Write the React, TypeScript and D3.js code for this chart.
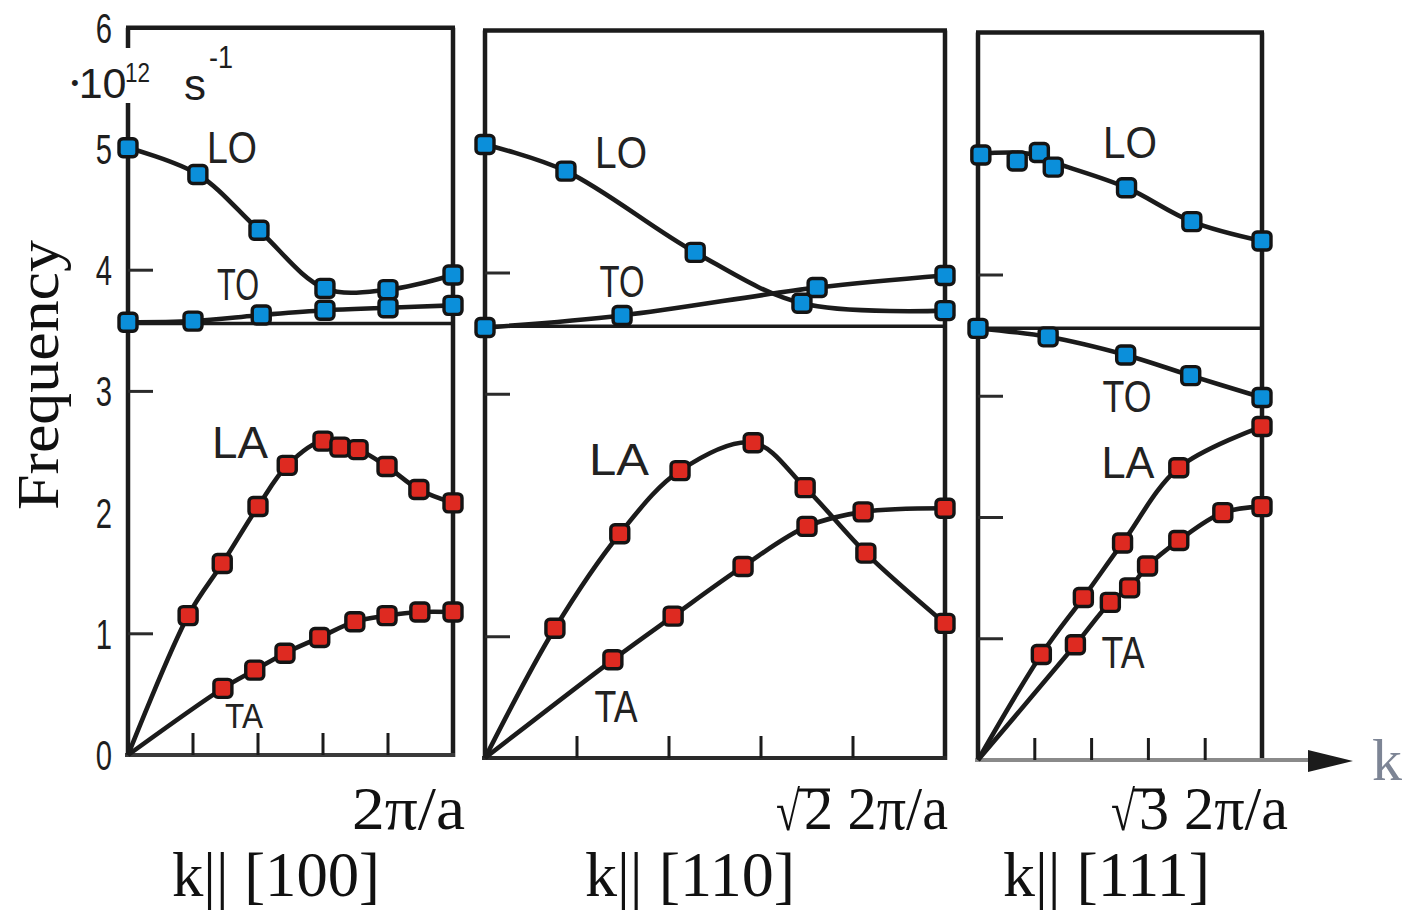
import React from 'react';
import * as d3 from 'd3';

type Pt = [number, number];

// x: fraction of zone-boundary wave vector, y: frequency (10^12 s^-1)
// ---- k || [100]
const lo100: Pt[] = [[0, 5.01], [0.215, 4.79], [0.403, 4.33], [0.606, 3.85], [0.8, 3.84], [1.0, 3.96]];
const to100: Pt[] = [[0, 3.57], [0.2, 3.58], [0.41, 3.63], [0.606, 3.67], [0.8, 3.69], [1.0, 3.71]];
const la100: Pt[] = [[0.185, 1.15], [0.29, 1.58], [0.4, 2.05], [0.49, 2.39], [0.6, 2.59], [0.652, 2.54], [0.708, 2.52], [0.797, 2.38], [0.895, 2.19], [1.0, 2.08]];
const ta100: Pt[] = [[0.292, 0.55], [0.39, 0.7], [0.483, 0.84], [0.59, 0.97], [0.698, 1.1], [0.797, 1.15], [0.898, 1.18], [1.0, 1.18]];
// ---- k || [110]
const lo110: Pt[] = [[0, 5.06], [0.176, 4.84], [0.457, 4.17], [0.689, 3.75], [1.0, 3.69]];
const to110: Pt[] = [[0, 3.55], [0.298, 3.65], [0.722, 3.88], [1.0, 3.98]];
const la110: Pt[] = [[0.152, 1.07], [0.293, 1.85], [0.424, 2.37], [0.583, 2.6], [0.696, 2.23], [0.828, 1.69], [1.0, 1.11]];
const ta110: Pt[] = [[0.278, 0.81], [0.409, 1.17], [0.561, 1.58], [0.7, 1.91], [0.822, 2.03], [1.0, 2.06]];
// ---- k || [111]
const lo111: Pt[] = [[0.01, 4.99], [0.138, 4.94], [0.216, 5.01], [0.265, 4.89], [0.523, 4.72], [0.753, 4.44], [1.0, 4.28]];
const lo111Curve: Pt[] = [[0, 5.0], [0.18, 5.0], [0.29, 4.91], [0.523, 4.72], [0.753, 4.44], [1.0, 4.28]];
const to111: Pt[] = [[0, 3.56], [0.247, 3.49], [0.52, 3.34], [0.749, 3.17], [1.0, 2.99]];
const la111: Pt[] = [[0.223, 0.87], [0.371, 1.34], [0.509, 1.79], [0.707, 2.41], [1.0, 2.75]];
const ta111: Pt[] = [[0.343, 0.95], [0.466, 1.3], [0.534, 1.42], [0.597, 1.6], [0.707, 1.81], [0.862, 2.04], [1.0, 2.09]];

const origin: Pt = [0, 0];
const xTicks = [0.2, 0.4, 0.6, 0.8];
const yTickLabels = ['0', '1', '2', '3', '4', '5', '6'];
const yTicks100 = [1, 3, 4];
const yTicks110 = [1, 3, 4];
const yTicks111 = [1, 2, 3, 4];
const gapValue = 3.56;
const directions = ['k|| [100]', 'k|| [110]', 'k|| [111]'];
const boundaryLabels = ['2π/a', '2 2π/a', '3 2π/a'];
const radicands = ['', '2', '3'];
const branchNames = ['LO', 'TO', 'LA', 'TA'];

const BLUE = '#0b8fda';
const RED = '#de2a21';
const INK = '#1b1b1b';

interface Branch { pts: Pt[]; curve: Pt[]; color: string }
interface LabelPos { cx: number; by: number; fs: number; len: number }
interface PanelCfg {
  left: number; right: number; bottom: number; unit: number;
  yTicks: number[]; branches: Branch[]; labels: LabelPos[];
  gap?: [number, number]; bottomColor: string; arrow?: boolean;
}

const panels: PanelCfg[] = [
  {
    left: 128, right: 453, bottom: 755, unit: 121.2, yTicks: yTicks100, gap: [48, 103], bottomColor: '#3a3a3a',
    branches: [
      { pts: lo100, curve: lo100, color: BLUE },
      { pts: to100, curve: to100, color: BLUE },
      { pts: la100, curve: [origin, ...la100], color: RED },
      { pts: ta100, curve: [origin, ...ta100], color: RED },
    ],
    labels: [
      { cx: 232, by: 163, fs: 44, len: 50 },
      { cx: 238, by: 300, fs: 44, len: 42 },
      { cx: 240, by: 458, fs: 44, len: 56 },
      { cx: 244, by: 728, fs: 35, len: 38 },
    ],
  },
  {
    left: 485, right: 945, bottom: 758, unit: 121.25, yTicks: yTicks110, bottomColor: '#2a2a2a',
    branches: [
      { pts: lo110, curve: lo110, color: BLUE },
      { pts: to110, curve: to110, color: BLUE },
      { pts: la110, curve: [origin, ...la110], color: RED },
      { pts: ta110, curve: [origin, ...ta110], color: RED },
    ],
    labels: [
      { cx: 621, by: 168, fs: 45, len: 52 },
      { cx: 622, by: 297, fs: 45, len: 45 },
      { cx: 619, by: 475, fs: 45, len: 60 },
      { cx: 616, by: 722, fs: 44, len: 43 },
    ],
  },
  {
    left: 978, right: 1262, bottom: 760, unit: 121.25, yTicks: yTicks111, bottomColor: '#8a8a8a', arrow: true,
    branches: [
      { pts: lo111, curve: lo111Curve, color: BLUE },
      { pts: to111, curve: to111, color: BLUE },
      { pts: la111, curve: [origin, ...la111], color: RED },
      { pts: ta111, curve: [origin, ...ta111], color: RED },
    ],
    labels: [
      { cx: 1130, by: 158, fs: 45, len: 54 },
      { cx: 1127, by: 412, fs: 45, len: 49 },
      { cx: 1128, by: 478, fs: 45, len: 53 },
      { cx: 1123, by: 668, fs: 45, len: 43 },
    ],
  },
];

const SANS = 'Liberation Sans, Arial, sans-serif';
const SERIF = 'Liberation Serif, Times New Roman, serif';

function Panel({ cfg }: { cfg: PanelCfg }) {
  const x = d3.scaleLinear().domain([0, 1]).range([cfg.left, cfg.right]);
  const y = d3.scaleLinear().domain([0, 6]).range([cfg.bottom, cfg.bottom - 6 * cfg.unit]);
  const line = d3.line<Pt>().x(d => x(d[0])).y(d => y(d[1])).curve(d3.curveCatmullRom.alpha(0.5));
  const top = y(6);
  const sw = 4.5;
  return (
    <g>
      {/* frame */}
      <line x1={x(0) - 2} x2={x(1) + 2} y1={top} y2={top} stroke={INK} strokeWidth={sw} />
      <line x1={x(1)} x2={x(1)} y1={top} y2={cfg.bottom + 2} stroke={INK} strokeWidth={sw} />
      {cfg.gap ? (
        <>
          <line x1={x(0)} x2={x(0)} y1={top} y2={cfg.gap[0]} stroke={INK} strokeWidth={sw} />
          <line x1={x(0)} x2={x(0)} y1={cfg.gap[1]} y2={cfg.bottom + 2} stroke={INK} strokeWidth={sw} />
        </>
      ) : (
        <line x1={x(0)} x2={x(0)} y1={top} y2={cfg.bottom + 2} stroke={INK} strokeWidth={sw} />
      )}
      <line x1={x(0) - 3} x2={cfg.arrow ? 1320 : x(1) + 2} y1={cfg.bottom} y2={cfg.bottom} stroke={cfg.bottomColor} strokeWidth={4} />
      {cfg.arrow && (
        <polygon points={`1308,${cfg.bottom - 10} 1353,${cfg.bottom + 1} 1308,${cfg.bottom + 12}`} fill={INK} />
      )}
      {/* separator between optical and acoustic sections */}
      <line x1={x(0)} x2={x(1)} y1={y(gapValue)} y2={y(gapValue)} stroke={INK} strokeWidth={3.5} />
      {/* ticks */}
      {xTicks.map(t => (
        <line key={'x' + t} x1={x(t)} x2={x(t)} y1={cfg.bottom} y2={cfg.bottom - 22} stroke={INK} strokeWidth={3} />
      ))}
      {cfg.yTicks.map(t => (
        <line key={'y' + t} x1={x(0)} x2={x(0) + 25} y1={y(t)} y2={y(t)} stroke="#2a2a2a" strokeWidth={3} />
      ))}
      {/* curves */}
      {cfg.branches.map((b, i) => (
        <path key={'c' + i} d={line(b.curve) || ''} fill="none" stroke={INK} strokeWidth={4.6} strokeLinejoin="round" />
      ))}
      {/* measured points */}
      {cfg.branches.map((b, i) => (
        <g key={'p' + i}>
          {b.pts.map((p, j) => (
            <rect key={j} x={x(p[0]) - 9} y={y(p[1]) - 9} width={18} height={18} rx={4}
              fill={b.color} stroke="#141414" strokeWidth={3.4} />
          ))}
        </g>
      ))}
      {/* branch names */}
      {cfg.labels.map((l, i) => (
        <text key={'l' + i} x={l.cx - l.len / 2} y={l.by} fontSize={l.fs} fontFamily={SANS} fill="#222"
          textLength={l.len} lengthAdjust="spacingAndGlyphs">{branchNames[i]}</text>
      ))}
    </g>
  );
}

export default function App() {
  const p0 = panels[0];
  const y0 = d3.scaleLinear().domain([0, 6]).range([p0.bottom, p0.bottom - 6 * p0.unit]);
  return (
    <svg width={1410} height={911} viewBox="0 0 1410 911"
      style={{ position: 'absolute', left: 0, top: 0, background: '#fff' }}>
      <rect x={0} y={0} width={1410} height={911} fill="#fff" />
      {panels.map((p, i) => <Panel key={i} cfg={p} />)}

      {/* y tick labels */}
      {yTickLabels.map((t, i) => (
        <text key={t} transform={`translate(104,${y0(i) + 15}) scale(0.68,1)`} textAnchor="middle"
          fontSize={43} fontFamily={SANS} fill="#1e1e1e">{t}</text>
      ))}

      {/* unit */}
      <text x={71} y={98} fontSize={43} fontFamily={SANS} fill="#1e1e1e">
        <tspan fontSize={22} dy={-8}>•</tspan><tspan dy={8}>10</tspan>
      </text>
      <text x={125} y={82} fontSize={28} fontFamily={SANS} fill="#1e1e1e" textLength={25} lengthAdjust="spacingAndGlyphs">12</text>
      <text x={184} y={100} fontSize={44} fontFamily={SANS} fill="#1e1e1e" textLength={22} lengthAdjust="spacingAndGlyphs">s</text>
      <text x={209} y={68} fontSize={32} fontFamily={SANS} fill="#1e1e1e" textLength={24} lengthAdjust="spacingAndGlyphs">-1</text>

      {/* y axis title */}
      <text transform="translate(58,375) rotate(-90)" textAnchor="middle" fontSize={59} fontFamily={SERIF}
        fill="#111" textLength={270} lengthAdjust="spacingAndGlyphs">Frequency</text>

      {/* zone-boundary labels */}
      <text x={352} y={829} fontSize={62} fontFamily={SERIF} fill="#111" textLength={113} lengthAdjust="spacingAndGlyphs">{boundaryLabels[0]}</text>

      <text x={776} y={830} fontSize={56} fontFamily={SERIF} fill="#111" textLength={24} lengthAdjust="spacingAndGlyphs">√</text>
      <line x1={798} x2={830} y1={790} y2={790} stroke="#111" strokeWidth={3} />
      <text x={804} y={829} fontSize={62} fontFamily={SERIF} fill="#111" textLength={144} lengthAdjust="spacingAndGlyphs">{radicands[1] + boundaryLabels[1].slice(1)}</text>

      <text x={1111} y={830} fontSize={56} fontFamily={SERIF} fill="#111" textLength={24} lengthAdjust="spacingAndGlyphs">√</text>
      <line x1={1133} x2={1162} y1={790} y2={790} stroke="#111" strokeWidth={3} />
      <text x={1139} y={829} fontSize={62} fontFamily={SERIF} fill="#111" textLength={149} lengthAdjust="spacingAndGlyphs">{radicands[2] + boundaryLabels[2].slice(1)}</text>

      {/* direction labels */}
      <text x={172} y={896} fontSize={64} fontFamily={SERIF} fill="#111" textLength={208} lengthAdjust="spacingAndGlyphs">{directions[0]}</text>
      <text x={585} y={896} fontSize={64} fontFamily={SERIF} fill="#111" textLength={210} lengthAdjust="spacingAndGlyphs">{directions[1]}</text>
      <text x={1003} y={896} fontSize={64} fontFamily={SERIF} fill="#111" textLength={207} lengthAdjust="spacingAndGlyphs">{directions[2]}</text>

      {/* k axis label */}
      <text x={1372} y={780} fontSize={60} fontFamily={SERIF} fill="#7d8595">k</text>
    </svg>
  );
}
